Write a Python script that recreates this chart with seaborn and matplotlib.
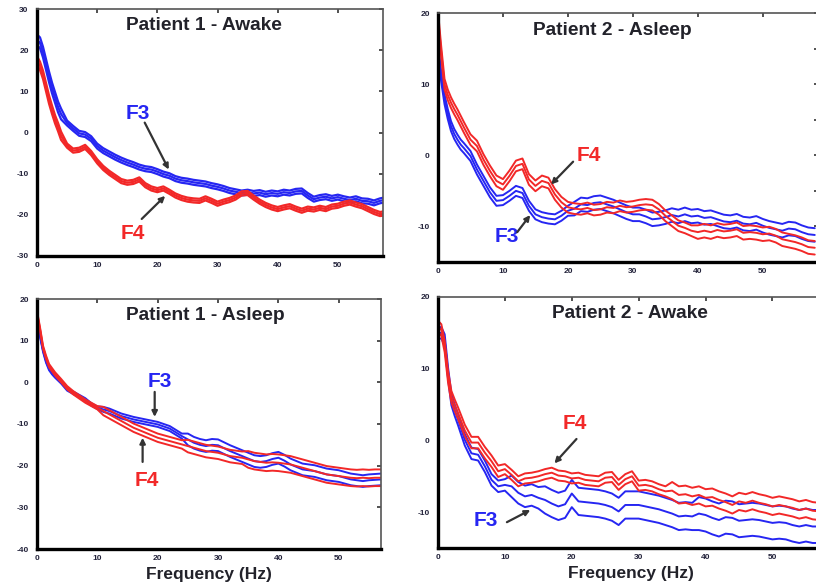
import matplotlib
matplotlib.use("Agg")
import matplotlib.pyplot as plt
import pandas as pd
import seaborn as sns

# Frequency grid (Hz) shared by every spectrum
FREQ = [0, 0.5, 1, 1.5, 2, 2.5, 3, 3.5, 4] + list(range(5, 59))

# Patient 1 - Awake: mean log power (dB) and half-width of the band
P1_AWAKE_F3 = [22.5, 21.8, 19.5, 16.5, 13.5, 10.8, 8.5, 6.2, 4.5,
               2.3, 1.0, -0.2, -0.5, -1.5, -3.3, -4.4, -5.2, -6.0, -6.7,
               -7.3, -7.8, -8.4, -8.8, -9.0, -9.5, -10.1, -10.5, -11.2, -11.6,
               -11.8, -12.1, -12.3, -12.5, -12.9, -13.2, -13.6, -14.1, -14.4, -14.7,
               -14.5, -14.8, -14.6, -15.0, -14.7, -14.9, -14.5, -14.7, -14.3, -14.2,
               -15.3, -16.2, -15.8, -15.6, -16.0, -15.7, -16.1, -16.4, -16.1, -16.6,
               -16.7, -17.1, -16.6, -16.3]
P1_AWAKE_F4 = [17.5, 16.2, 14.0, 11.0, 8.0, 5.5, 3.2, 1.3, -0.8,
               -3.2, -4.4, -4.2, -3.5, -5.0, -7.0, -8.6, -9.8, -10.8, -11.8,
               -12.2, -12.0, -11.4, -12.8, -13.6, -14.0, -13.6, -14.4, -15.3, -15.9,
               -16.3, -16.5, -16.6, -16.0, -16.6, -17.3, -16.8, -16.4, -15.8, -14.8,
               -14.7, -15.8, -16.8, -17.6, -18.2, -18.6, -18.2, -17.9, -18.5, -19.0,
               -18.5, -18.7, -18.3, -18.6, -18.0, -17.8, -17.3, -17.0, -17.5, -17.9,
               -18.6, -19.3, -19.8, -19.6]
P1_AWAKE_F3_HW = [1.3] * 9 + [0.6] * 54
P1_AWAKE_F4_HW = [1.0] * 9 + [0.5] * 54

# Patient 2 - Asleep
P2_ASLEEP_F3 = [15.0, 11.0, 7.9, 5.8, 4.1, 3.0, 2.2, 1.5, 1.0,
                -0.1, -2.0, -3.6, -5.2, -6.4, -6.3, -5.7, -5.0, -5.3, -7.1,
                -8.3, -8.7, -8.9, -9.0, -8.5, -7.8, -7.5, -6.9, -7.0, -6.7,
                -6.6, -6.9, -7.2, -7.6, -8.0, -8.3, -8.3, -8.6, -9.0, -8.9,
                -8.7, -8.4, -8.6, -8.3, -8.6, -8.5, -8.8, -8.7, -9.0, -9.3,
                -9.4, -9.2, -9.6, -9.7, -9.5, -9.9, -10.2, -10.4, -10.6, -10.3,
                -10.4, -10.8, -11.1, -11.2]
P2_ASLEEP_F4 = [19.5, 14.5, 10.0, 8.5, 7.4, 6.5, 5.7, 4.8, 3.9,
                2.2, 1.3, -0.6, -2.2, -3.6, -4.1, -2.9, -1.5, -1.2, -3.4,
                -4.3, -3.6, -3.9, -5.5, -6.6, -7.3, -7.5, -7.6, -7.4, -7.7,
                -7.6, -7.3, -7.4, -7.1, -7.3, -7.2, -7.0, -6.9, -7.0, -7.6,
                -8.5, -9.2, -9.9, -10.2, -10.6, -10.8, -10.6, -10.8, -10.5, -10.7,
                -10.6, -10.4, -10.9, -10.8, -10.9, -11.1, -11.0, -11.3, -11.8, -12.0,
                -12.2, -12.5, -12.9, -13.0]
P2_ASLEEP_F3_HW = [0.7] * 25 + [0.95] * 38
P2_ASLEEP_F4_HW = [0.75] * 44 + [0.95] * 19

# Patient 1 - Asleep
P1_ASLEEP_F3 = [15.2, 11.2, 7.6, 5.0, 3.2, 2.2, 1.4, 0.7, 0.0,
                -1.7, -2.5, -3.3, -4.1, -5.3, -6.1, -6.5, -6.9, -7.5, -8.1,
                -8.5, -8.9, -9.2, -9.5, -9.8, -10.1, -10.6, -11.1, -12.0, -12.9,
                -13.7, -14.5, -15.0, -15.3, -15.0, -15.1, -15.8, -16.5, -17.1, -17.7,
                -18.3, -18.9, -19.1, -18.9, -18.4, -18.1, -18.8, -19.7, -20.3, -20.9,
                -21.1, -21.3, -21.7, -22.1, -22.3, -22.5, -22.9, -23.3, -23.5, -23.7,
                -23.5, -23.4, -23.3, -23.3]
P1_ASLEEP_F4 = [16.8, 12.8, 8.4, 6.0, 4.0, 3.0, 2.0, 1.2, 0.4,
                -1.3, -2.5, -3.5, -4.5, -5.3, -6.1, -6.9, -7.7, -8.5, -9.3,
                -10.1, -10.9, -11.5, -12.1, -12.7, -13.3, -13.7, -14.1, -14.5, -14.9,
                -15.3, -15.7, -16.1, -16.5, -16.7, -16.9, -17.3, -17.7, -17.9, -18.1,
                -18.5, -18.9, -19.1, -19.3, -19.2, -19.3, -19.5, -19.7, -20.1, -20.5,
                -20.9, -21.3, -21.7, -22.1, -22.3, -22.5, -22.7, -22.9, -23.0, -22.9,
                -23.0, -22.9, -22.9, -22.9]
P1_ASLEEP_F3_HW = [0.3] * 15 + [0.6] * 14 + [1.4] * 34
P1_ASLEEP_F4_HW = [0.4] * 15 + [1.0] * 14 + [1.5] * 10 + [2.0] * 24

# Patient 2 - Awake
P2_AWAKE_F3 = [15.0, 15.0, 14.0, 9.4, 5.7, 4.2, 2.9, 1.5, 0.1,
               -1.8, -2.0, -3.6, -5.5, -6.4, -6.2, -6.4, -7.3, -7.8, -7.6,
               -8.0, -8.3, -8.8, -9.2, -8.9, -7.4, -8.5, -8.6, -8.7, -8.8,
               -9.0, -9.3, -9.9, -9.0, -9.0, -9.0, -9.2, -9.4, -9.6, -9.9,
               -10.2, -10.6, -10.5, -10.6, -10.2, -10.4, -10.8, -11.1, -10.7, -10.8,
               -11.2, -11.1, -11.0, -11.1, -11.3, -11.5, -11.4, -11.5, -11.8, -12.0,
               -11.8, -12.0, -12.0, -12.1]
P2_AWAKE_F4 = [15.9, 15.4, 13.1, 8.9, 6.1, 4.9, 3.8, 2.6, 1.4,
               -0.3, -0.3, -1.7, -2.9, -4.3, -4.0, -4.8, -5.7, -5.3, -5.2,
               -5.0, -4.7, -4.5, -4.9, -5.0, -5.3, -5.2, -5.5, -5.6, -5.7,
               -5.2, -5.1, -6.2, -5.4, -5.0, -6.3, -6.2, -6.4, -6.8, -7.1,
               -7.0, -7.6, -7.5, -7.8, -7.6, -8.0, -7.9, -8.3, -8.6, -9.0,
               -8.5, -8.7, -8.4, -8.7, -8.9, -9.2, -9.0, -9.2, -9.4, -9.7,
               -9.5, -9.8, -9.9, -9.9]
P2_AWAKE_F3_HW = [0.8] * 15 + [1.5] * 5 + [1.9] * 23 + [2.3] * 20
P2_AWAKE_F4_HW = [0.8] * 14 + [0.7] * 25 + [1.2] * 24

SERIES = {
    "p1_awake": {"F3": (P1_AWAKE_F3, P1_AWAKE_F3_HW), "F4": (P1_AWAKE_F4, P1_AWAKE_F4_HW)},
    "p2_asleep": {"F3": (P2_ASLEEP_F3, P2_ASLEEP_F3_HW), "F4": (P2_ASLEEP_F4, P2_ASLEEP_F4_HW)},
    "p1_asleep": {"F3": (P1_ASLEEP_F3, P1_ASLEEP_F3_HW), "F4": (P1_ASLEEP_F4, P1_ASLEEP_F4_HW)},
    "p2_awake": {"F3": (P2_AWAKE_F3, P2_AWAKE_F3_HW), "F4": (P2_AWAKE_F4, P2_AWAKE_F4_HW)},
}

BLUE = "#2626f2"
RED = "#f22828"
PALETTE = {"F3": BLUE, "F4": RED}

# Long-form table: mean curve plus lower/upper band for every channel
rows = []
for panel, chans in SERIES.items():
    for ch, (mean, hw) in chans.items():
        for f, m, h in zip(FREQ, mean, hw):
            for trace, sign in (("lo", -1), ("mid", 0), ("hi", 1)):
                rows.append({"panel": panel, "channel": ch, "trace": trace,
                             "freq": f, "power": m + sign * h})
df = pd.DataFrame(rows)

sns.set_theme(style="white")
plt.rcParams["font.family"] = ["Liberation Sans", "DejaVu Sans"]

W, H = 816, 587
fig = plt.figure(figsize=(W / 100, H / 100), dpi=100)
fig.patch.set_facecolor("white")


def rect(left, top, right, bottom):
    return [left / W, 1 - bottom / H, (right - left) / W, (bottom - top) / H]


PANELS = [
    dict(key="p1_awake", title="Patient 1 - Awake", box=rect(37, 9, 383, 256),
         xlim=(0, 57.5), ylim=(-30, 30), yticks=range(-30, 31, 10), yminor=[],
         tpos=(0.483, 0.935), xlabel=False, lw=1.6,
         notes=[("F3", BLUE, (16.8, 4.6), (17.9, 2.4), (21.9, -9.0)),
                ("F4", RED, (15.9, -24.6), (17.4, -21.0), (21.3, -15.4))]),
    dict(key="p2_asleep", title="Patient 2 - Asleep", box=rect(438, 13, 818, 262),
         xlim=(0, 58.5), ylim=(-15, 20), yticks=range(-10, 21, 10), yminor=[-5, 5, 15],
         tpos=(0.458, 0.93), xlabel=False, lw=1.4,
         notes=[("F4", RED, (23.2, 0.0), (20.8, -0.9), (17.4, -4.1)),
                ("F3", BLUE, (10.6, -11.4), (12.2, -10.8), (14.2, -8.4))]),
    dict(key="p1_asleep", title="Patient 1 - Asleep", box=rect(37, 299, 381, 549),
         xlim=(0, 57), ylim=(-40, 20), yticks=range(-40, 21, 10), yminor=[],
         tpos=(0.488, 0.936), xlabel=True, lw=1.4,
         notes=[("F3", BLUE, (20.4, 0.1), (19.5, -2.3), (19.5, -8.3)),
                ("F4", RED, (18.2, -23.6), (17.5, -19.1), (17.5, -13.3))]),
    dict(key="p2_awake", title="Patient 2 - Awake", box=rect(438, 297, 824, 548),
         xlim=(0, 57.7), ylim=(-15, 20), yticks=range(-10, 21, 10), yminor=[-5, 5, 15],
         tpos=(0.497, 0.936), xlabel=True, lw=1.4,
         notes=[("F4", RED, (20.4, 2.4), (20.7, 0.2), (17.4, -3.2)),
                ("F3", BLUE, (7.2, -11.1), (10.3, -11.4), (13.8, -9.7))]),
]

TICK_COLOR = "#22223a"

for spec in PANELS:
    ax = fig.add_axes(spec["box"])
    sub = df[df["panel"] == spec["key"]]
    sns.lineplot(data=sub, x="freq", y="power", hue="channel", units="trace",
                 estimator=None, palette=PALETTE, hue_order=["F3", "F4"],
                 linewidth=spec["lw"], legend=False, sort=False, ax=ax)
    ax.set_xlim(*spec["xlim"])
    ax.set_ylim(*spec["ylim"])
    ax.set_xticks(range(0, 51, 10))
    ax.set_xticklabels([str(v) for v in range(0, 51, 10)], fontweight="bold")
    yt = list(spec["yticks"])
    ax.set_yticks(yt)
    ax.set_yticklabels([str(v) for v in yt], fontweight="bold")
    if spec["yminor"]:
        ax.set_yticks(spec["yminor"], minor=True)
    ax.tick_params(which="both", direction="in", length=3, width=1.2,
                   top=True, right=True, labelsize=6, labelcolor=TICK_COLOR,
                   color="#333333")
    ax.tick_params(axis="y", pad=6)
    ax.tick_params(axis="x", pad=4)
    ax.set_ylabel("")
    if spec["xlabel"]:
        ax.set_xlabel("Frequency (Hz)", fontsize=12.5, fontweight="bold",
                      color="#22222a", labelpad=4)
    else:
        ax.set_xlabel("")
    for side in ("left", "bottom"):
        ax.spines[side].set_linewidth(2.4)
        ax.spines[side].set_color("black")
    for side in ("top", "right"):
        ax.spines[side].set_linewidth(1.2)
        ax.spines[side].set_color("#555555")
    ax.text(spec["tpos"][0], spec["tpos"][1], spec["title"], transform=ax.transAxes,
            ha="center", va="center", fontsize=13.8, fontweight="bold", color="#22222a")
    for label, color, tpos, a0, a1 in spec["notes"]:
        ax.text(tpos[0], tpos[1], label, color=color, fontsize=15,
                fontweight="bold", ha="center", va="center")
        ax.annotate("", xy=a1, xytext=a0,
                    arrowprops=dict(arrowstyle="-|>", color="#333333", lw=1.6,
                                    mutation_scale=8, shrinkA=0, shrinkB=0))

fig.savefig("out.png", dpi=100, facecolor="white")
